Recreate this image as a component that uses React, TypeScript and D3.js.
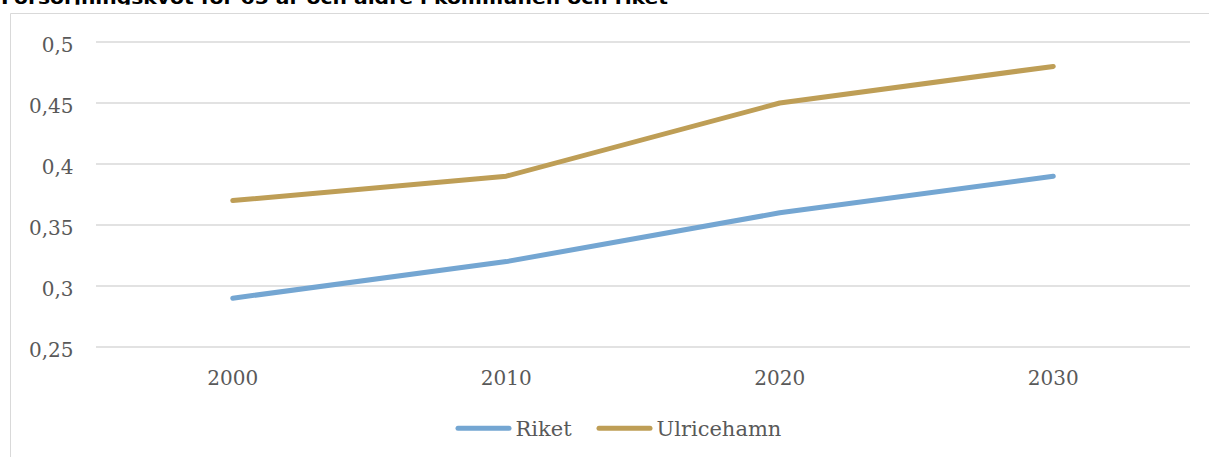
import React from "react";
import * as d3 from "d3";

const titleText = "Försörjningskvot för 65 år och äldre i kommunen och riket";
const years = ["2000", "2010", "2020", "2030"];
const riket = [0.29, 0.32, 0.36, 0.39];
const ulricehamn = [0.37, 0.39, 0.45, 0.48];
const yTicks = [0.25, 0.3, 0.35, 0.4, 0.45, 0.5];
const seriesNames = ["Riket", "Ulricehamn"];
const seriesColors = ["#74A6D2", "#BE9E56"];

const W = 1209;
const H = 457;
const plotLeft = 96;
const plotRight = 1190;
const yTop = 42;
const yBottom = 347;

export default function App() {
  const x = d3.scalePoint<string>().domain(years).range([plotLeft, plotRight]).padding(0.5);
  const y = d3.scaleLinear().domain([0.25, 0.5]).range([yBottom, yTop]);
  const line = d3
    .line<number>()
    .x((_, i) => x(years[i]) as number)
    .y((d) => y(d));
  const fmt = (v: number) => String(+v.toFixed(2)).replace(".", ",");
  const series = [riket, ulricehamn];
  const legendX = [456, 597];
  const textColor = "#595959";

  return (
    <svg
      width={W}
      height={H}
      style={{ position: "absolute", left: 0, top: 0, background: "#fff" }}
      fontFamily="'DejaVu Serif', serif"
    >
      <defs>
        <clipPath id="titleClip">
          <rect x={0} y={0} width={W} height={4.8} />
        </clipPath>
      </defs>
      <rect x={0} y={0} width={W} height={H} fill="#fff" />
      <g clipPath="url(#titleClip)">
        <text
          x={1}
          y={4.3}
          fontFamily="'DejaVu Sans', sans-serif"
          fontWeight="bold"
          fontSize={17.5}
          fill="#000"
          textLength={667}
          lengthAdjust="spacingAndGlyphs"
        >
          {titleText}
        </text>
      </g>
      {/* chart border */}
      <line x1={10.5} y1={13.5} x2={W} y2={13.5} stroke="#D9D9D9" strokeWidth={1} />
      <line x1={10.5} y1={13.5} x2={10.5} y2={H} stroke="#D9D9D9" strokeWidth={1} />

      {/* gridlines */}
      {yTicks.map((t) => (
        <line
          key={t}
          x1={plotLeft}
          x2={plotRight}
          y1={y(t)}
          y2={y(t)}
          stroke="#D9D9D9"
          strokeWidth={1.6}
        />
      ))}
      {/* y tick labels */}
      {yTicks.map((t) => (
        <text key={"l" + t} x={73.5} y={y(t) + 9.5} textAnchor="end" fontSize={20} fill={textColor}>
          {fmt(t)}
        </text>
      ))}
      {/* x tick labels */}
      {years.map((yr) => (
        <text key={yr} x={x(yr) as number} y={384.8} textAnchor="middle" fontSize={20} fill={textColor}>
          {yr}
        </text>
      ))}
      {/* lines */}
      {series.map((s, i) => (
        <path
          key={seriesNames[i]}
          d={line(s) || ""}
          fill="none"
          stroke={seriesColors[i]}
          strokeWidth={5}
          strokeLinecap="round"
          strokeLinejoin="round"
        />
      ))}
      {/* legend */}
      {seriesNames.map((n, i) => (
        <g key={"lg" + n}>
          <line
            x1={legendX[i] + 2}
            x2={legendX[i] + 53}
            y1={428.3}
            y2={428.3}
            stroke={seriesColors[i]}
            strokeWidth={5}
            strokeLinecap="round"
          />
          <text x={legendX[i] + 59.5} y={436} fontSize={21} fill={textColor}>
            {n}
          </text>
        </g>
      ))}
    </svg>
  );
}
